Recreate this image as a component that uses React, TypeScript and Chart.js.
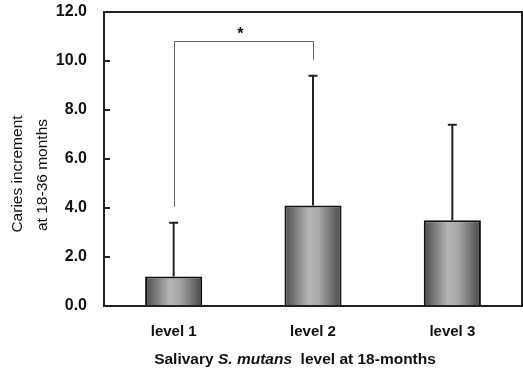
import React, { useEffect, useRef } from "react";
import { Chart, registerables } from "chart.js";

Chart.register(...registerables);

const categories = ["level 1", "level 2", "level 3"];
const means = [1.2, 4.1, 3.5];
const sdUp = [2.2, 5.3, 3.9];
const yTicks = [0, 2, 4, 6, 8, 10, 12];
const bracketTop = 10.8;
const bracketLeftBottom = 4.05;
const bracketRightBottom = 10.05;
const yTitleLines = ["Caries increment", "at 18-36 months"];
const FONT = "'Liberation Sans', Arial, sans-serif";
const BAR_PCT = 0.41;

export default function App() {
  const ref = useRef<HTMLCanvasElement>(null);
  useEffect(() => {
    const canvas = ref.current!;
    const decor = {
      id: "decor",
      afterDatasetsDraw(chart: any) {
        const ctx = chart.ctx;
        const xs = chart.scales.x;
        const ys = chart.scales.y;
        const a = chart.chartArea;
        ctx.save();
        // error bars
        ctx.strokeStyle = "#222";
        ctx.lineWidth = 2;
        means.forEach((m, i) => {
          const x = xs.getPixelForValue(i);
          const y0 = ys.getPixelForValue(m);
          const y1 = ys.getPixelForValue(m + sdUp[i]);
          ctx.beginPath();
          ctx.moveTo(x, y0);
          ctx.lineTo(x, y1);
          ctx.moveTo(x - 4.5, y1);
          ctx.lineTo(x + 4.5, y1);
          ctx.stroke();
        });
        // bracket
        const xa = xs.getPixelForValue(0);
        const xb = xs.getPixelForValue(1);
        ctx.strokeStyle = "#666";
        ctx.lineWidth = 1;
        ctx.beginPath();
        ctx.moveTo(Math.round(xa) + 0.5, ys.getPixelForValue(bracketLeftBottom));
        ctx.lineTo(Math.round(xa) + 0.5, Math.round(ys.getPixelForValue(bracketTop)) + 0.5);
        ctx.lineTo(Math.round(xb) + 0.5, Math.round(ys.getPixelForValue(bracketTop)) + 0.5);
        ctx.lineTo(Math.round(xb) + 0.5, ys.getPixelForValue(bracketRightBottom));
        ctx.stroke();
        ctx.fillStyle = "#111";
        ctx.font = `bold 16px ${FONT}`;
        ctx.textAlign = "center";
        ctx.textBaseline = "middle";
        ctx.fillText("*", (xa + xb) / 2 - 3, ys.getPixelForValue(bracketTop) - 7);
        // frame
        ctx.strokeStyle = "#222";
        ctx.lineWidth = 2;
        ctx.strokeRect(a.left, a.top, a.right - a.left, a.bottom - a.top);
        // inner ticks
        yTicks.forEach((v) => {
          const y = ys.getPixelForValue(v);
          ctx.beginPath();
          ctx.moveTo(a.left, y);
          ctx.lineTo(a.left + 6, y);
          ctx.stroke();
        });
        // y title
        ctx.fillStyle = "#111";
        ctx.font = `15.5px ${FONT}`;
        ctx.textAlign = "center";
        ctx.textBaseline = "middle";
        ctx.save();
        ctx.translate(18, 174);
        ctx.rotate(-Math.PI / 2);
        ctx.fillText(yTitleLines[0], 0, 0);
        ctx.restore();
        ctx.save();
        ctx.translate(43, 175);
        ctx.rotate(-Math.PI / 2);
        ctx.fillText(yTitleLines[1], 0, 0);
        ctx.restore();
        // x title with italic part
        const parts = [
          { t: "Salivary ", f: `bold 15.5px ${FONT}` },
          { t: "S. mutans", f: `italic bold 15.5px ${FONT}` },
          { t: "  level at 18-months", f: `bold 15.5px ${FONT}` },
        ];
        let total = 0;
        parts.forEach((p) => {
          ctx.font = p.f;
          total += ctx.measureText(p.t).width;
        });
        let cx = 295 - total / 2;
        ctx.textAlign = "left";
        parts.forEach((p) => {
          ctx.font = p.f;
          ctx.fillText(p.t, cx, 360);
          cx += ctx.measureText(p.t).width;
        });
        ctx.restore();
      },
    };
    const chart = new Chart(canvas, {
      type: "bar",
      data: {
        labels: categories,
        datasets: [
          {
            data: means,
            backgroundColor: (c: any) => {
              const ch = c.chart;
              const xs = ch.scales.x;
              if (!xs || !ch.chartArea) return "#999";
              const cxp = xs.getPixelForValue(c.dataIndex);
              const w = ((ch.chartArea.right - ch.chartArea.left) / categories.length) * BAR_PCT;
              const g = ch.ctx.createLinearGradient(cxp - w / 2, 0, cxp + w / 2, 0);
              g.addColorStop(0, "#4a4a4a");
              g.addColorStop(0.42, "#b4b4b4");
              g.addColorStop(0.6, "#a8a8a8");
              g.addColorStop(1, "#474747");
              return g;
            },
            borderColor: "#111",
            borderWidth: 2,
            barPercentage: BAR_PCT,
            categoryPercentage: 1,
          },
        ],
      },
      options: {
        animation: false,
        responsive: false,
        maintainAspectRatio: false,
        layout: { padding: { top: 12, right: 1, left: 0, bottom: 0 } },
        plugins: { legend: { display: false }, tooltip: { enabled: false } },
        scales: {
          x: {
            grid: { display: false, drawTicks: false },
            border: { display: false },
            ticks: { color: "#111", font: { family: FONT, size: 15, weight: "bold" }, padding: 17 },
            afterFit: (s: any) => {
              s.height = 66;
              s.paddingLeft = 0;
              s.paddingRight = 0;
            },
          },
          y: {
            min: 0,
            max: 12,
            afterBuildTicks: (s: any) => {
              s.ticks = yTicks.map((v) => ({ value: v }));
            },
            grid: { display: false, drawTicks: false },
            border: { display: false },
            ticks: {
              color: "#111",
              font: { family: FONT, size: 16, weight: "bold" },
              padding: 17,
              callback: (v: any) => Number(v).toFixed(1),
            },
            afterFit: (s: any) => {
              s.width = 104;
              s.paddingTop = 0;
              s.paddingBottom = 0;
            },
          },
        },
      },
      plugins: [decor],
    });
    return () => chart.destroy();
  }, []);
  return (
    <div style={{ position: "fixed", left: 0, top: 0, width: 523, height: 372, background: "#fff" }}>
      <canvas ref={ref} width={523} height={372} style={{ width: 523, height: 372, display: "block" }} />
    </div>
  );
}
